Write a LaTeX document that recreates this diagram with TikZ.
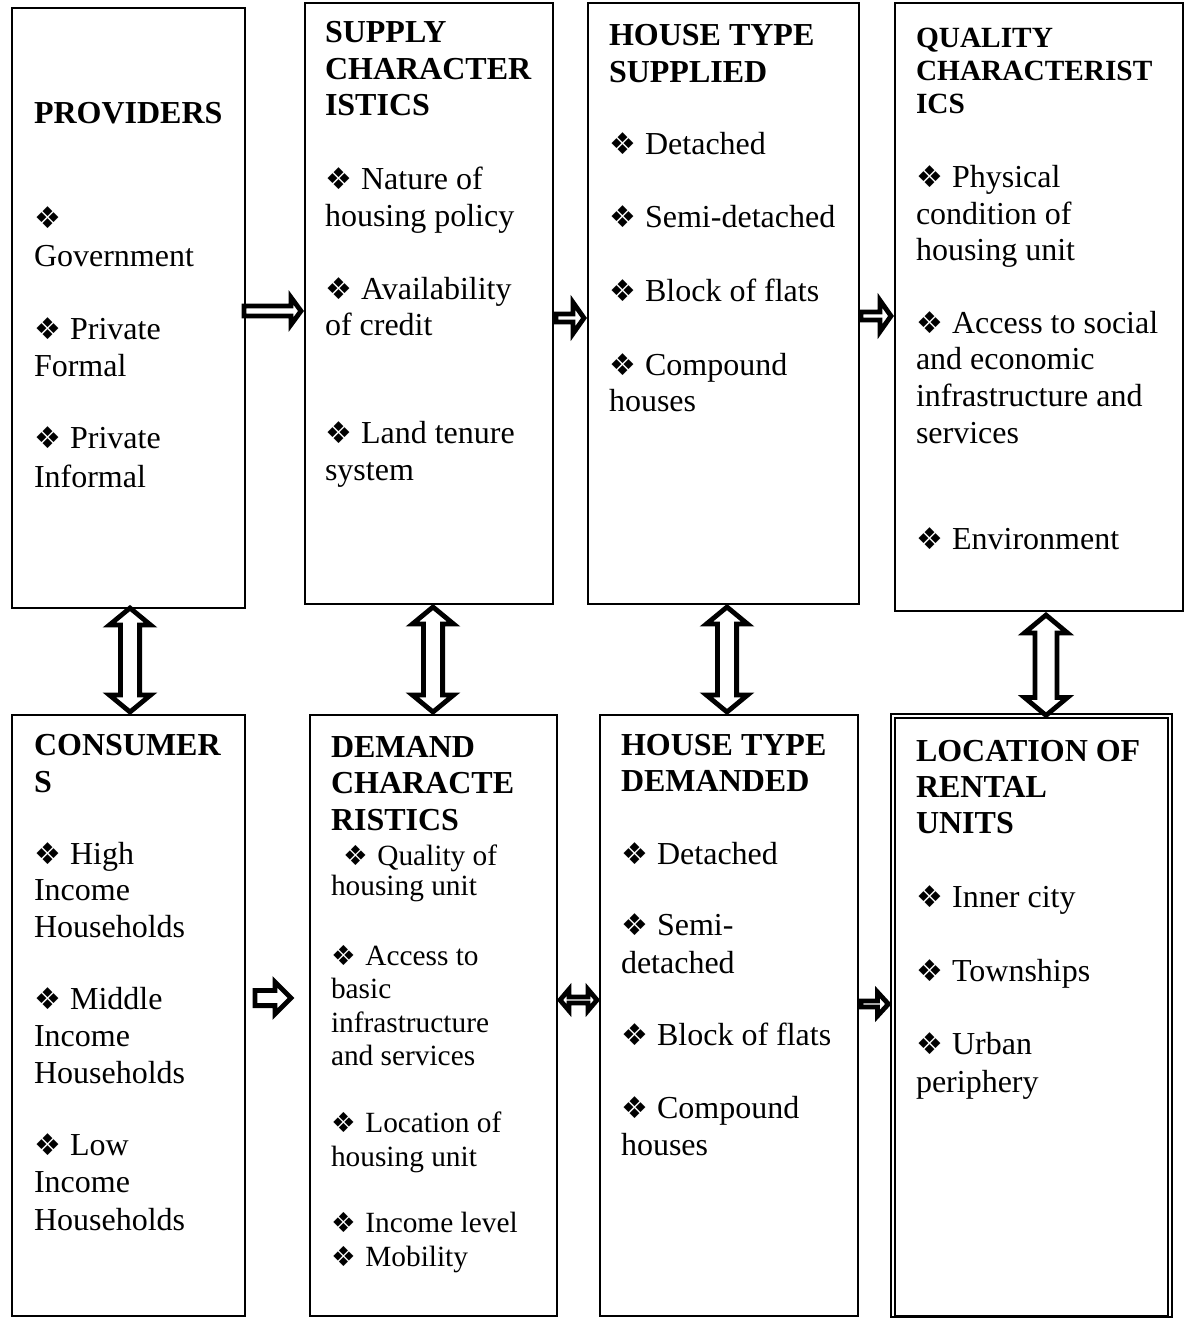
\documentclass[tikz,border=0pt]{standalone}
\usepackage{fontspec}
\setmainfont{Liberation Serif}
\newfontfamily\djv{DejaVu Sans}
\usetikzlibrary{calc,fit}
\newcommand\bul{{\djv\fontsize{15}{12}\selectfont ❖}\hspace{4.6pt}}
\newcommand\sbul{{\djv\fontsize{13.8}{11}\selectfont ❖}\hspace{4.8pt}}
\newcommand\tline[5]{\node[txt,#1] (#2) at (#3,#4) {#5};}
\tikzset{
  box/.style={draw, line width=1pt, inner sep=0pt, fill=none},
  txt/.style={anchor=base west, inner sep=0pt, outer sep=0pt},
  ttl/.style={font=\fontsize{16}{18}\selectfont\bfseries},
  sttl/.style={font=\fontsize{14.67}{16}\selectfont\bfseries},
  body/.style={font=\fontsize{16}{18}\selectfont},
  sbody/.style={font=\fontsize{14.67}{16}\selectfont},
  blk/.style={draw=black, line width=2.4pt, fill=white, line join=miter},
  rarr/.style n args={3}{to path={let \p1=(\tikztostart),\p2=(\tikztotarget) in
     (\x1,{\y1+#1}) -- ({\x2-#3},{\y1+#1}) -- ({\x2-#3},{\y1+#2}) -- (\x2,\y1)
     -- ({\x2-#3},{\y1-#2}) -- ({\x2-#3},{\y1-#1}) -- (\x1,{\y1-#1}) -- cycle}},
  hdarr/.style n args={3}{to path={let \p1=(\tikztostart),\p2=(\tikztotarget) in
     (\x1,\y1) -- ({\x1+#3},{\y1+#2}) -- ({\x1+#3},{\y1+#1}) -- ({\x2-#3},{\y1+#1})
     -- ({\x2-#3},{\y1+#2}) -- (\x2,\y1) -- ({\x2-#3},{\y1-#2}) -- ({\x2-#3},{\y1-#1})
     -- ({\x1+#3},{\y1-#1}) -- ({\x1+#3},{\y1-#2}) -- cycle}},
  vdarr/.style n args={3}{to path={let \p1=(\tikztostart),\p2=(\tikztotarget) in
     (\x1,\y1) -- ({\x1+#2},{\y1-#3}) -- ({\x1+#1},{\y1-#3}) -- ({\x1+#1},{\y2+#3})
     -- ({\x1+#2},{\y2+#3}) -- (\x1,\y2) -- ({\x1-#2},{\y2+#3}) -- ({\x1-#1},{\y2+#3})
     -- ({\x1-#1},{\y1-#3}) -- ({\x1-#2},{\y1-#3}) -- cycle}}
}
\begin{document}
\begin{tikzpicture}[x=0.5pt,y=-0.5pt]
\useasboundingbox (0,0) rectangle (1189,1318);
\fill[white] (0,0) rectangle (1189,1318);

% boxes
\node[box, fit={(12,8) (245,608)}] (b1) {};
\node[box, fit={(305,3) (553,604)}] (b2) {};
\node[box, fit={(588,3) (859,604)}] (b3) {};
\node[box, fit={(895,3) (1183,611)}] (b4) {};
\node[box, fit={(12,715) (245,1316)}] (b5) {};
\node[box, fit={(310,715) (557,1316)}] (b6) {};
\node[box, fit={(600,715) (858,1316)}] (b7) {};
\node[box, line width=0.6pt, fit={(891,714) (1172,1317)}] (b8o) {};
\node[box, fit={(895,718) (1168,1316)}] (b8) {};

% arrow reference coordinates
\coordinate (ya1) at (0,311);
\coordinate (ya2) at (0,318);
\coordinate (ya3) at (0,316);
\coordinate (ya4) at (0,998);
\coordinate (ya5) at (0,1000);
\coordinate (ya6) at (0,1004);
\coordinate (xv1) at (130,0);
\coordinate (xv2) at (433,0);
\coordinate (xv3) at (727,0);
\coordinate (xv4) at (1046,0);

% horizontal arrows
\draw[blk] ($(b1.east |- ya1)+(-2,0)$) to[rarr={2.5pt}{6.8pt}{5pt}] ($(b2.west |- ya1)+(-3,0)$);
\draw[blk] ($(b2.east |- ya2)+(2,0)$) to[rarr={2pt}{7.8pt}{5.5pt}] ($(b3.west |- ya2)+(-3,0)$);
\draw[blk] ($(b3.east |- ya3)+(1,0)$) to[rarr={2pt}{7.8pt}{5.5pt}] ($(b4.west |- ya3)+(-3,0)$);
\draw[blk] ($(b5.east |- ya4)+(9,0)$) to[rarr={3.8pt}{8pt}{8pt}] ($(b6.west |- ya4)+(-18,0)$);
\draw[blk] ($(b6.east |- ya5)+(2,0)$) to[hdarr={1.5pt}{5.3pt}{4.5pt}] ($(b7.west |- ya5)+(-2,0)$);
\draw[blk] ($(b7.east |- ya6)+(2,0)$) to[rarr={1.5pt}{6pt}{5.5pt}] ($(b8o.west |- ya6)+(-2,0)$);

% vertical double arrows
\draw[blk] ($(b1.south -| xv1)+(0,-1)$) to[vdarr={4.8pt}{10.3pt}{8.5pt}] ($(b5.north -| xv1)+(0,-2)$);
\draw[blk] ($(b2.south -| xv2)+(0,2)$) to[vdarr={4.8pt}{10.3pt}{8.5pt}] ($(b6.north -| xv2)+(0,-2)$);
\draw[blk] ($(b3.south -| xv3)+(0,2)$) to[vdarr={4.8pt}{10.3pt}{8.5pt}] ($(b7.north -| xv3)+(0,-2)$);
\draw[blk] ($(b4.south -| xv4)+(0,3)$) to[vdarr={5.5pt}{10.8pt}{9pt}] ($(b8o.north -| xv4)+(0,2)$);

% box 1
\tline{ttl}{t1a}{34}{123}{PROVIDERS}
\tline{body}{t1b}{34}{228}{\bul}
\tline{body}{t1c}{34}{266}{Government}
\tline{body}{t1d}{34}{339}{\bul Private}
\tline{body}{t1e}{34}{376}{Formal}
\tline{body}{t1f}{34}{448}{\bul Private}
\tline{body}{t1g}{34}{487}{Informal}

% box 2
\tline{ttl}{t2a}{325}{42}{SUPPLY}
\tline{ttl}{t2b}{325}{79}{CHARACTER}
\tline{ttl}{t2c}{325}{115}{ISTICS}
\tline{body}{t2d}{325}{189}{\bul Nature of}
\tline{body}{t2e}{325}{226}{housing policy}
\tline{body}{t2f}{325}{299}{\bul Availability}
\tline{body}{t2g}{325}{335}{of credit}
\tline{body}{t2h}{325}{443}{\bul Land tenure}
\tline{body}{t2i}{325}{480}{system}

% box 3
\tline{ttl}{t3a}{609}{45}{HOUSE TYPE}
\tline{ttl}{t3b}{609}{82}{SUPPLIED}
\tline{body}{t3c}{609}{154}{\bul Detached}
\tline{body}{t3d}{609}{227}{\bul Semi-detached}
\tline{body}{t3e}{609}{301}{\bul Block of flats}
\tline{body}{t3f}{609}{375}{\bul Compound}
\tline{body}{t3g}{609}{411}{houses}

% box 4
\tline{sttl}{t4a}{916}{47}{QUALITY}
\tline{sttl}{t4b}{916}{80}{CHARACTERIST}
\tline{sttl}{t4c}{916}{113}{ICS}
\tline{body}{t4d}{916}{187}{\bul Physical}
\tline{body}{t4e}{916}{224}{condition of}
\tline{body}{t4f}{916}{260}{housing unit}
\tline{body}{t4g}{916}{333}{\bul Access to social}
\tline{body}{t4h}{916}{369}{and economic}
\tline{body}{t4i}{916}{406}{infrastructure and}
\tline{body}{t4j}{916}{443}{services}
\tline{body}{t4k}{916}{549}{\bul Environment}

% box 5
\tline{ttl}{t5a}{34}{755}{CONSUMER}
\tline{ttl}{t5b}{34}{792}{S}
\tline{body}{t5c}{34}{864}{\bul High}
\tline{body}{t5d}{34}{900}{Income}
\tline{body}{t5e}{34}{937}{Households}
\tline{body}{t5f}{34}{1009}{\bul Middle}
\tline{body}{t5g}{34}{1046}{Income}
\tline{body}{t5h}{34}{1083}{Households}
\tline{body}{t5i}{34}{1155}{\bul Low}
\tline{body}{t5j}{34}{1192}{Income}
\tline{body}{t5k}{34}{1230}{Households}

% box 6
\tline{ttl}{t6a}{331}{757}{DEMAND}
\tline{ttl}{t6b}{331}{793}{CHARACTE}
\tline{ttl}{t6c}{331}{830}{RISTICS}
\tline{sbody}{t6d}{343}{865}{\sbul Quality of}
\tline{sbody}{t6e}{331}{895}{housing unit}
\tline{sbody}{t6f}{331}{965}{\sbul Access to}
\tline{sbody}{t6g}{331}{998}{basic}
\tline{sbody}{t6h}{331}{1032}{infrastructure}
\tline{sbody}{t6i}{331}{1065}{and services}
\tline{sbody}{t6j}{331}{1132}{\sbul Location of}
\tline{sbody}{t6k}{331}{1166}{housing unit}
\tline{sbody}{t6l}{331}{1232}{\sbul Income level}
\tline{sbody}{t6m}{331}{1266}{\sbul Mobility}

% box 7
\tline{ttl}{t7a}{621}{755}{HOUSE TYPE}
\tline{ttl}{t7b}{621}{791}{DEMANDED}
\tline{body}{t7c}{621}{864}{\bul Detached}
\tline{body}{t7d}{621}{935}{\bul Semi-}
\tline{body}{t7e}{621}{973}{detached}
\tline{body}{t7f}{621}{1045}{\bul Block of flats}
\tline{body}{t7g}{621}{1118}{\bul Compound}
\tline{body}{t7h}{621}{1155}{houses}

% box 8
\tline{ttl}{t8a}{916}{761}{LOCATION OF}
\tline{ttl}{t8b}{916}{797}{RENTAL}
\tline{ttl}{t8c}{916}{833}{UNITS}
\tline{body}{t8d}{916}{907}{\bul Inner city}
\tline{body}{t8e}{916}{981}{\bul Townships}
\tline{body}{t8f}{916}{1054}{\bul Urban}
\tline{body}{t8g}{916}{1092}{periphery}
\end{tikzpicture}
\end{document}
